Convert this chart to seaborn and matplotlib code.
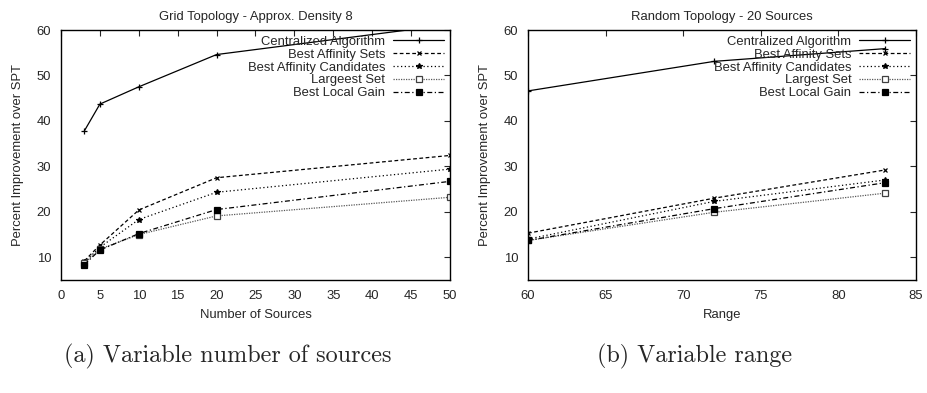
import numpy as np
import pandas as pd
import seaborn as sns
import matplotlib.pyplot as plt

series = ['Centralized Algorithm', 'Best Affinity Sets', 'Best Affinity Candidates',
          'Largeest Set', 'Best Local Gain']
series_b = ['Centralized Algorithm', 'Best Affinity Sets', 'Best Affinity Candidates',
            'Largest Set', 'Best Local Gain']

# (a) grid topology, variable number of sources
sources = [3, 5, 10, 20, 50]
cent_a = [37.8, 43.7, 47.5, 54.6, 61.2]
bas_a = [9.2, 12.7, 20.4, 27.5, 32.4]
bac_a = [8.9, 12.2, 18.3, 24.3, 29.4]
lrg_a = [8.7, 11.8, 15.0, 19.1, 23.2]
blg_a = [8.4, 11.6, 15.2, 20.5, 26.7]

# (b) random topology, variable range
ranges = [60, 72, 83]
cent_b = [46.6, 53.1, 55.9]
bas_b = [15.3, 23.0, 29.2]
bac_b = [14.0, 22.3, 27.0]
lrg_b = [13.7, 19.9, 24.1]
blg_b = [13.7, 20.7, 26.4]

styles = [
    dict(linestyle='-', marker='+', markersize=5, color='black', markeredgecolor='black'),
    dict(linestyle=(0, (3, 2)), marker='x', markersize=3.5, color='black',
         markeredgecolor='black'),
    dict(linestyle=(0, (1, 2)), marker='*', markersize=4, color='black',
         markeredgecolor='black'),
    dict(linestyle=(0, (1, 1)), marker='s', markersize=4, color='0.35',
         markerfacecolor='white', markeredgecolor='0.25'),
    dict(linestyle=(0, (4, 2, 1, 2)), marker='s', markersize=4.5, color='black',
         markeredgecolor='black'),
]

sns.set_style('white')
plt.rcParams['font.family'] = ['Liberation Sans', 'DejaVu Sans']
fs = 9.4

fig = plt.figure(figsize=(9.28, 3.93), dpi=100)
ax1 = fig.add_axes([61 / 928, 1 - 280 / 393, 389 / 928, 250 / 393])
ax2 = fig.add_axes([528 / 928, 1 - 280 / 393, 388 / 928, 250 / 393])


def draw(ax, x, ys, labels, xname):
    for lab, y, st in zip(labels, ys, styles):
        df = pd.DataFrame({xname: x, 'v': y})
        sns.lineplot(data=df, x=xname, y='v', ax=ax, label=lab, linewidth=0.9,
                     markeredgewidth=0.9, **st)
    ax.set_ylim(5, 60)
    ax.set_yticks([10, 20, 30, 40, 50, 60])
    ax.set_ylabel('Percent Improvement over SPT', fontsize=fs, labelpad=9)
    ax.set_xlabel(xname, fontsize=fs, labelpad=5)
    ax.tick_params(direction='in', top=True, right=True, labelsize=fs, length=4,
                   width=0.8, pad=7)
    for s in ax.spines.values():
        s.set_linewidth(1.0)
        s.set_color('black')
    ax.legend(loc='upper right', frameon=False, markerfirst=False, fontsize=fs,
              handlelength=3.9, labelspacing=0.05, handletextpad=0.6,
              borderaxespad=0.3, borderpad=0.15)


draw(ax1, sources, [cent_a, bas_a, bac_a, lrg_a, blg_a], series, 'Number of Sources')
ax1.set_xlim(0, 50)
ax1.set_xticks(range(0, 51, 5))
ax1.set_title('Grid Topology - Approx. Density 8', fontsize=fs, pad=7)

draw(ax2, ranges, [cent_b, bas_b, bac_b, lrg_b, blg_b], series_b, 'Range')
ax2.set_xlim(60, 85)
ax2.set_xticks(range(60, 86, 5))
ax2.set_title('Random Topology - 20 Sources', fontsize=fs, pad=7)

fig.text(228 / 928, 1 - 356 / 393, '(a) Variable number of sources', family='cmr10',
         fontsize=17.4, ha='center', va='center')
fig.text(695 / 928, 1 - 356 / 393, '(b) Variable range', family='cmr10',
         fontsize=17.4, ha='center', va='center')

fig.savefig('out.png', dpi=100)
